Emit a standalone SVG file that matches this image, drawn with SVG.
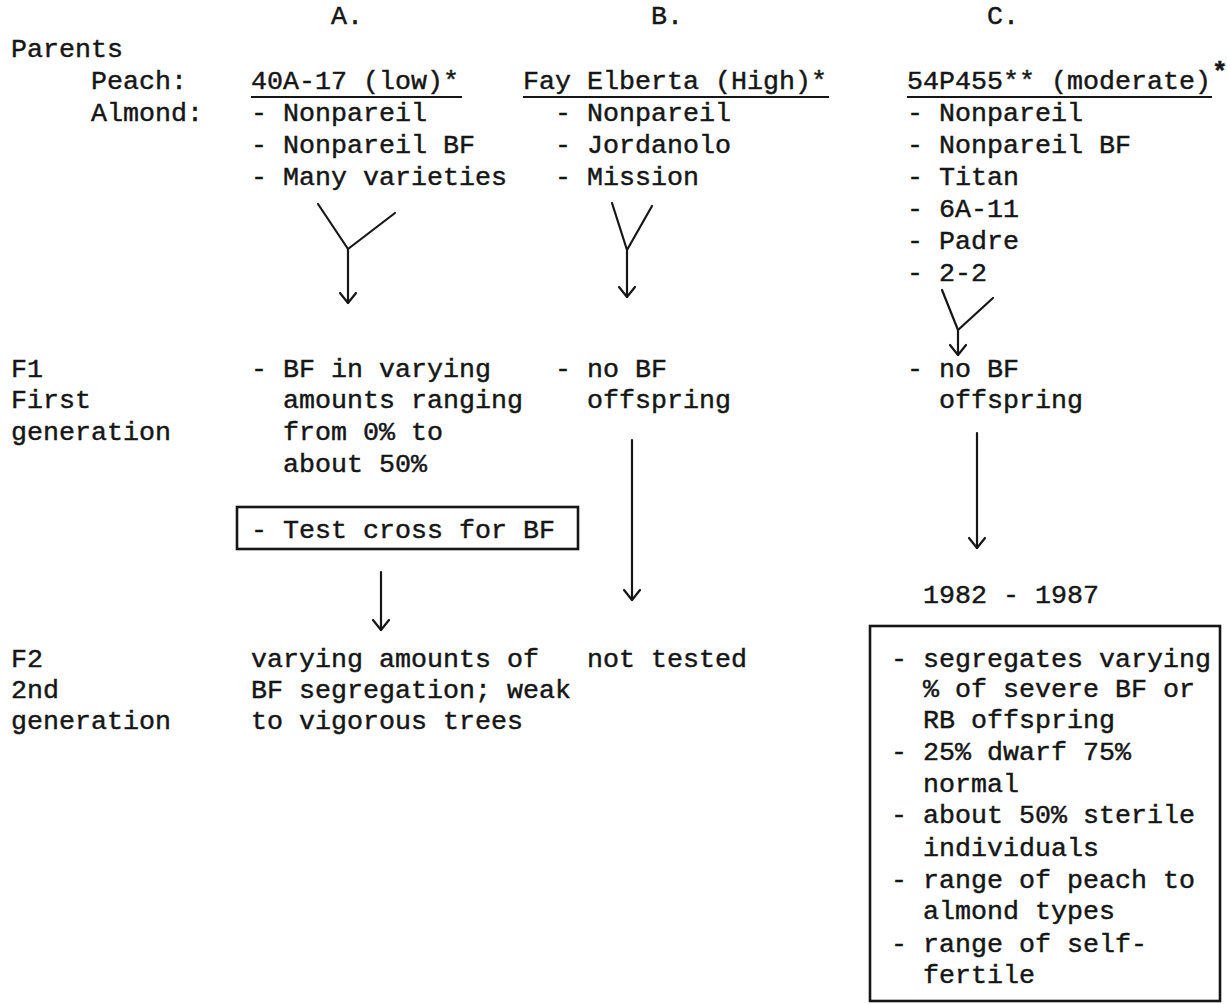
<svg xmlns="http://www.w3.org/2000/svg" width="1227" height="1004" viewBox="0 0 1227 1004">
<style>
text{font-family:"Liberation Mono","DejaVu Sans Mono",monospace;font-size:26.67px;fill:#161616;stroke:#161616;stroke-width:0.45;white-space:pre}
.ln{stroke:#161616;stroke-width:2.2;fill:none;stroke-linecap:round;stroke-linejoin:round}
.ul{stroke:#161616;stroke-width:2;fill:none}
.box{stroke:#161616;stroke-width:2.6;fill:none}
</style>
<defs>
<marker id="ah" viewBox="-12 -10 14 20" refX="0" refY="0" markerWidth="14" markerHeight="20" markerUnits="userSpaceOnUse" orient="auto" overflow="visible">
<path d="M-10,-8 L0,0 L-10,8" fill="none" stroke="#161616" stroke-width="2.2" stroke-linecap="round" stroke-linejoin="round"/>
</marker>
</defs>
<rect width="1227" height="1004" fill="#ffffff"/>

<g id="headers">
<text x="331" y="24">A.</text>
<text x="651" y="24">B.</text>
<text x="987" y="24">C.</text>
</g>

<g id="row-labels">
<text x="11" y="57">Parents</text>
<text x="91" y="89">Peach:</text>
<text x="91" y="121">Almond:</text>
<text x="11" y="377">F1</text>
<text x="11" y="408">First</text>
<text x="11" y="440">generation</text>
<text x="11" y="667">F2</text>
<text x="11" y="698">2nd</text>
<text x="11" y="729">generation</text>
</g>

<g id="parents-A">
<text x="251" y="89">40A-17 (low)*</text>
<line class="ul" x1="251" y1="97" x2="462" y2="97"/>
<text x="251" y="121">- Nonpareil</text>
<text x="251" y="153">- Nonpareil BF</text>
<text x="251" y="185">- Many varieties</text>
</g>

<g id="parents-B">
<text x="523" y="89">Fay Elberta (High)*</text>
<line class="ul" x1="523" y1="97" x2="829" y2="97"/>
<text x="555" y="121">- Nonpareil</text>
<text x="555" y="153">- Jordanolo</text>
<text x="555" y="185">- Mission</text>
</g>

<g id="parents-C">
<text x="907" y="89">54P455** (moderate)</text>
<line class="ul" x1="907" y1="97" x2="1212" y2="97"/>
<text x="1212" y="80" style="font-size:26px;font-weight:bold">*</text>
<text x="907" y="121">- Nonpareil</text>
<text x="907" y="153">- Nonpareil BF</text>
<text x="907" y="185">- Titan</text>
<text x="907" y="217">- 6A-11</text>
<text x="907" y="249">- Padre</text>
<text x="907" y="281">- 2-2</text>
</g>

<g id="f1-A">
<text x="251" y="377">- BF in varying</text>
<text x="283" y="408">amounts ranging</text>
<text x="283" y="440">from 0% to</text>
<text x="283" y="472">about 50%</text>
</g>

<g id="f1-B">
<text x="555" y="377">- no BF</text>
<text x="587" y="408">offspring</text>
</g>

<g id="f1-C">
<text x="907" y="377">- no BF</text>
<text x="939" y="408">offspring</text>
</g>

<g id="testcross-A">
<rect class="box" x="237" y="507" width="341" height="42"/>
<text x="251" y="538">- Test cross for BF</text>
</g>

<g id="years-C">
<text x="923" y="603">1982 - 1987</text>
</g>

<g id="f2-A">
<text x="251" y="667">varying amounts of</text>
<text x="251" y="698">BF segregation; weak</text>
<text x="251" y="729">to vigorous trees</text>
</g>

<g id="f2-B">
<text x="587" y="667">not tested</text>
</g>

<g id="f2-C">
<rect class="box" x="870" y="626" width="350" height="375"/>
<text x="891" y="667">- segregates varying</text>
<text x="923" y="697">% of severe BF or</text>
<text x="923" y="728">RB offspring</text>
<text x="891" y="760">- 25% dwarf 75%</text>
<text x="923" y="792">normal</text>
<text x="891" y="823">- about 50% sterile</text>
<text x="923" y="856">individuals</text>
<text x="891" y="888">- range of peach to</text>
<text x="923" y="919">almond types</text>
<text x="891" y="952">- range of self-</text>
<text x="923" y="983">fertile</text>
</g>

<g id="connectors">
<polyline class="ln" points="318,204 348,249 395,213"/>
<line class="ln" x1="348" y1="249" x2="348" y2="303" marker-end="url(#ah)"/>
<polyline class="ln" points="612,203 627,250 652,206"/>
<line class="ln" x1="627" y1="250" x2="627" y2="297" marker-end="url(#ah)"/>
<polyline class="ln" points="942,290 958,330 993,298"/>
<line class="ln" x1="958" y1="330" x2="958" y2="355" marker-end="url(#ah)"/>
<line class="ln" x1="381" y1="572" x2="381" y2="630" marker-end="url(#ah)"/>
<line class="ln" x1="632" y1="440" x2="632" y2="600" marker-end="url(#ah)"/>
<line class="ln" x1="977" y1="433" x2="977" y2="548" marker-end="url(#ah)"/>
</g>
</svg>
